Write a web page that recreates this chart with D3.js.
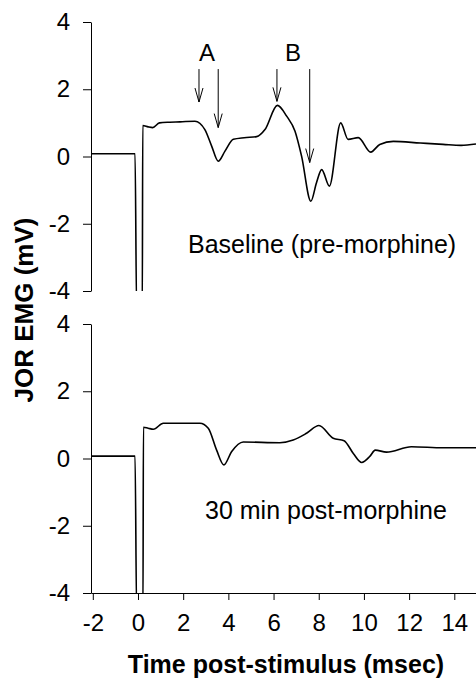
<!DOCTYPE html>
<html>
<head>
<meta charset="utf-8">
<script src="https://cdn.jsdelivr.net/npm/d3@7"></script>
<style>
  body { margin: 0; background: #fff; }
  svg { display: block; }
  text { font-family: "Liberation Sans", Arial, sans-serif; fill: #000; }
  .axis path, .axis line { stroke: #000; stroke-width: 1; }
  .axis text { font-size: 24px; }
  .trace { fill: none; stroke: #000; stroke-width: 1.6; stroke-linejoin: round; }
  .arrow { fill: none; stroke: #000; stroke-width: 1; }
</style>
</head>
<body>
<svg id="chart" width="476" height="683"></svg>
<script>
// baseline trace (pre-morphine), time in msec, EMG in mV
var baseT = [-2.08, -0.13, -0.06, 0.19, 0.21, 0.45, 0.65, 0.95, 1.4, 1.86, 2.52, 2.96, 3.26, 3.55, 3.85, 4.22, 4.7, 5.25, 5.62, 6.17, 6.58, 6.95, 7.24, 7.65, 7.9, 8.13, 8.47, 8.97, 9.3, 9.75, 10.3, 10.7, 11.3, 12.5, 13.5, 14.3, 14.96];
var baseV = [0.08, 0.08, -4.6, -4.6, 0.92, 0.88, 0.86, 1.0, 1.02, 1.03, 1.05, 0.8, 0.31, -0.14, 0.16, 0.51, 0.56, 0.59, 0.8, 1.52, 1.2, 0.75, 0.01, -1.33, -0.78, -0.39, -0.88, 1.0, 0.51, 0.56, 0.13, 0.36, 0.45, 0.4, 0.36, 0.33, 0.37];

// 30 min post-morphine trace
var postT = [-2.08, -0.13, -0.06, 0.22, 0.24, 0.45, 0.68, 1.12, 2.74, 3.11, 3.48, 3.8, 4.14, 4.66, 6.28, 6.87, 7.46, 8.01, 8.64, 9.12, 9.53, 9.9, 10.27, 10.5, 11.0, 12.1, 13.5, 14.96];
var postV = [0.07, 0.07, -4.6, -4.6, 0.93, 0.9, 0.87, 1.05, 1.05, 0.9, 0.25, -0.19, 0.2, 0.49, 0.47, 0.55, 0.75, 0.98, 0.6, 0.53, 0.15, -0.12, 0.07, 0.25, 0.19, 0.35, 0.32, 0.32];

// arrows on the baseline trace
var arrowT = [2.7, 3.55, 6.15, 7.6];
var arrowTip = [1.62, 0.86, 1.64, -0.18];
var arrowTop = 2.6;
var labelText = ['A', 'B'];
var labelT = [3.05, 6.86];

var xTicks = [-2, 0, 2, 4, 6, 8, 10, 12, 14];
var yTicks = [-4, -2, 0, 2, 4];
var panelNames = ['Baseline (pre-morphine)', '30 min post-morphine'];

var svg = d3.select('#chart');
var left = 91, right = 476;

var x = d3.scaleLinear().domain([-2.08, 14.96]).range([left, right]);

// plain hyphen minus like the original figure
function plainFmt(d) {
    return String(d);
}

var panels = [
    {top: 22, bottom: 291, t: baseT, v: baseV, name: panelNames[0], nameX: 188, nameY: -2.86},
    {top: 324, bottom: 593, t: postT, v: postV, name: panelNames[1], nameX: 205, nameY: -1.8}
];

function translateSVG(a, b) {
    return 'translate(' + a + ',' + b + ')';
}

panels.forEach(function (p, k) {
    var y = d3.scaleLinear().domain([-4, 4]).range([p.bottom, p.top]);
    p.y = y;

    svg.append('clipPath')
        .attr('id', 'clip' + k)
        .append('rect')
        .attr('x', left)
        .attr('y', p.top - 2)
        .attr('width', right - left)
        .attr('height', p.bottom - p.top + 2);

    svg.append('g')
        .attr('class', 'axis')
        .attr('transform', translateSVG(left, 0))
        .call(d3.axisLeft(y).tickValues(yTicks).tickFormat(plainFmt).tickSize(8).tickSizeOuter(0).tickPadding(13))
        .call(function (g) { g.selectAll('text').attr('font-family', null); });

    var pts = p.t.map(function (d, i) { return [d, p.v[i]]; });
    var line = d3.line()
        .x(function (d) { return x(d[0]); })
        .y(function (d) { return y(d[1]); })
        .curve(d3.curveMonotoneX);

    svg.append('path')
        .datum(pts)
        .attr('class', 'trace')
        .attr('clip-path', 'url(#clip' + k + ')')
        .attr('d', line);

    svg.append('text')
        .attr('x', p.nameX)
        .attr('y', y(p.nameY))
        .style('font-size', '25px')
        .text(p.name);
});

// x axis only under the bottom panel
svg.append('g')
    .attr('class', 'axis')
    .attr('transform', translateSVG(0, panels[1].bottom))
    .call(d3.axisBottom(x).tickValues(xTicks).tickFormat(plainFmt).tickSize(7).tickSizeOuter(0).tickPadding(14))
    .call(function (g) { g.selectAll('text').attr('font-family', null); });

// arrows A and B
var yTop = panels[0].y;
arrowT.forEach(function (t, i) {
    var ax = x(t), y0 = yTop(arrowTop), y1 = yTop(arrowTip[i]);
    var path = d3.path();
    path.moveTo(ax, y0);
    path.lineTo(ax, y1);
    path.moveTo(ax - 4, y1 - 14);
    path.lineTo(ax, y1);
    path.lineTo(ax + 4, y1 - 14);
    svg.append('path')
        .attr('class', 'arrow')
        .attr('d', path.toString());
});

labelText.forEach(function (s, i) {
    svg.append('text')
        .attr('x', x(labelT[i]))
        .attr('y', yTop(2.85))
        .attr('text-anchor', 'middle')
        .style('font-size', '24px')
        .text(s);
});

// axis titles
svg.append('text')
    .attr('transform', translateSVG(33, 310) + ' rotate(-90)')
    .attr('text-anchor', 'middle')
    .style('font-size', '26px')
    .style('font-weight', 'bold')
    .text('JOR EMG (mV)');

svg.append('text')
    .attr('x', 286)
    .attr('y', 673)
    .attr('text-anchor', 'middle')
    .style('font-size', '25px')
    .style('font-weight', 'bold')
    .text('Time post-stimulus (msec)');
</script>
</body>
</html>
